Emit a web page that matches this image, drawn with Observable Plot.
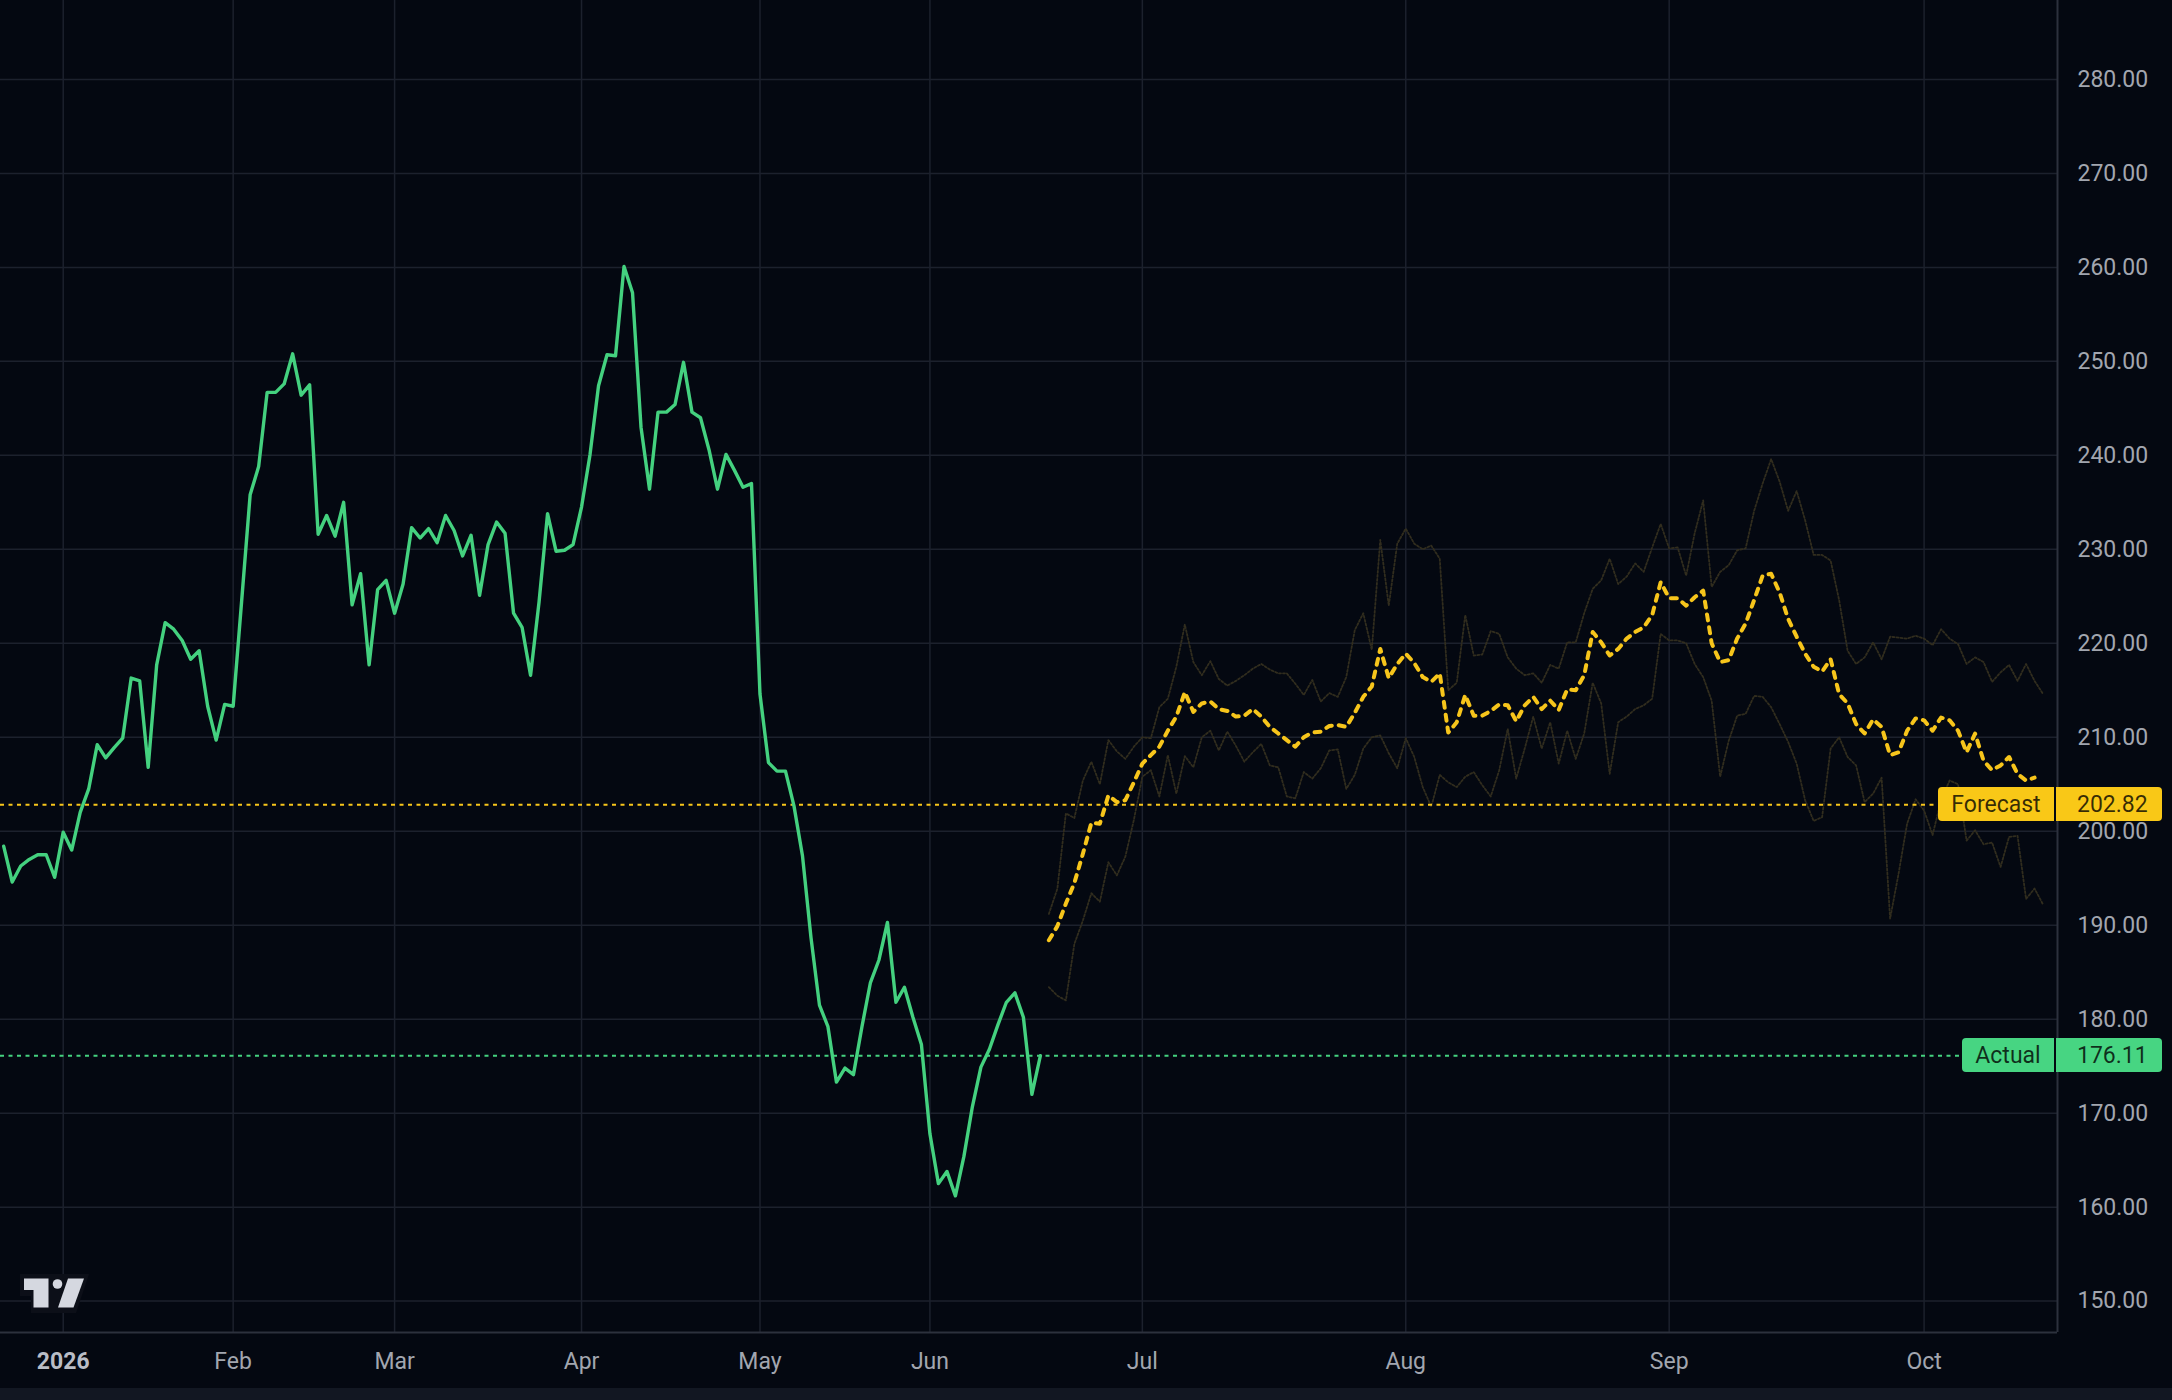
<!DOCTYPE html>
<html>
<head>
<meta charset="utf-8">
<script src="https://cdn.jsdelivr.net/npm/d3@7"></script>
<script src="https://cdn.jsdelivr.net/npm/@observablehq/plot@0.6"></script>
<style>
  html, body { margin: 0; padding: 0; background: #040811; overflow: hidden; }
  #wrap { position: relative; width: 2172px; height: 1400px; background: #040811; }
  #band { position: absolute; left: 0; top: 1388px; width: 2172px; height: 12px; background: #121722; }
  .lbl { position: absolute; height: 34px; font: 23px Roboto, sans-serif; color: rgba(0,0,0,0.78);
         display: flex; align-items: center; box-sizing: border-box; }
</style>
</head>
<body>
<div id="wrap"><div id="band"></div></div>
<script>
// ---- data (bar index based: TradingView spaces bars evenly) ----
const actualStart = 0;
const actual = [198.4,194.6,196.3,197.0,197.5,197.5,195.1,199.9,198.0,202.0,
204.5,209.2,207.8,208.9,209.9,216.3,216.0,206.8,217.7,222.2,
221.5,220.3,218.3,219.2,213.3,209.7,213.5,213.3,224.5,235.8,
238.8,246.7,246.7,247.6,250.8,246.4,247.5,231.6,233.6,231.4,
235.0,224.1,227.4,217.7,225.7,226.7,223.2,226.3,232.3,231.2,
232.2,230.7,233.6,232.0,229.3,231.5,225.1,230.5,232.9,231.7,
223.2,221.7,216.6,224.4,233.8,229.8,229.9,230.5,234.5,240.1,
247.4,250.7,250.6,260.1,257.3,243.0,236.4,244.6,244.6,245.4,
249.9,244.6,244.0,240.6,236.4,240.1,238.4,236.6,237.0,214.6,
207.3,206.4,206.4,202.7,197.4,188.7,181.5,179.2,173.3,174.8,
174.1,179.2,183.9,186.3,190.3,181.8,183.4,180.2,177.3,167.8,
162.5,163.8,161.2,165.4,170.7,174.9,176.8,179.4,181.8,182.8,
180.2,172.0,176.11];

const forecastStart = 123;
const forecast = [188.4,189.9,192.3,194.5,197.6,200.9,200.8,203.8,203.1,203.3,
205.2,207.2,208.1,209.0,210.7,212.2,214.8,212.7,213.6,213.8,
213.0,212.8,212.2,212.3,213.0,212.2,211.1,210.4,209.7,209.0,
210.0,210.5,210.6,211.2,211.3,211.1,212.6,214.3,215.4,219.4,
216.3,217.8,218.9,217.9,216.4,215.9,216.8,210.5,211.6,214.5,
212.3,212.3,212.8,213.5,213.4,211.7,213.4,214.3,213.0,213.9,
212.9,215.1,215.0,216.6,221.2,220.1,218.7,219.4,220.5,221.2,
221.7,223.0,226.5,224.8,224.8,224.0,224.9,225.6,220.0,218.0,
218.2,220.5,222.1,224.6,227.2,227.4,225.4,222.6,220.7,218.9,
217.5,217.0,218.3,214.6,213.6,211.4,210.4,211.9,211.1,208.1,
208.4,210.7,212.0,211.8,210.7,212.1,211.8,210.7,208.4,210.4,
207.5,206.5,207.0,207.9,206.1,205.4,205.7];

const ghostStart = 123;
const ghostUpper = [191.2,193.9,201.9,201.4,205.4,207.4,205.0,209.7,208.5,207.7,
209.0,210.0,209.9,213.2,214.1,217.5,222.0,218.0,216.6,218.1,
216.2,215.5,216.0,216.6,217.3,217.8,217.2,216.8,216.8,215.7,
214.5,216.1,213.8,214.7,214.3,216.4,221.4,223.2,219.3,231.0,
224.0,230.6,232.2,230.6,230.0,230.4,229.0,215.0,215.8,223.0,
218.7,218.8,221.3,221.0,218.5,217.3,216.6,216.8,215.8,217.7,
217.3,220.1,220.1,223.2,225.8,226.7,229.0,226.3,227.1,228.5,
227.6,230.2,232.7,230.1,230.2,227.2,231.7,235.2,226.0,227.6,
228.3,229.9,230.1,234.1,237.0,239.6,237.2,234.1,236.2,233.1,
229.4,229.4,228.8,224.6,219.2,217.8,218.5,220.1,218.3,220.7,
220.6,220.5,220.8,220.5,219.8,221.5,220.5,219.9,217.8,218.5,
218.0,215.9,216.9,217.7,216.0,217.8,216.0,214.6];
const ghostLower = [183.4,182.5,182.0,188.0,190.5,193.4,192.5,196.7,195.3,197.3,
201.2,205.8,206.5,203.7,208.1,204.0,208.0,206.8,210.0,210.7,
208.6,210.6,209.1,207.4,208.4,209.3,207.0,206.8,203.7,203.5,
206.3,205.6,206.7,208.6,208.7,204.5,206.0,208.8,210.0,210.2,
208.3,206.7,209.9,207.9,204.7,202.6,206.0,205.2,204.7,205.8,
206.3,204.9,203.7,206.5,210.9,205.6,208.8,212.2,208.8,211.6,
207.2,210.7,207.7,210.4,215.8,213.6,206.1,211.6,212.2,213.0,
213.4,214.1,221.0,220.3,220.3,220.0,217.8,216.4,213.9,205.8,
209.6,212.3,212.5,214.4,214.3,213.2,211.4,209.5,207.2,203.3,
201.1,201.5,208.8,210.0,207.9,207.0,203.1,204.0,205.7,190.7,
195.5,200.8,203.4,202.2,199.6,203.3,205.4,205.0,199.0,200.1,
198.6,198.8,196.2,199.4,199.5,192.8,193.9,192.2];

const monthTicks = [7, 27, 46, 68, 89, 109, 134, 165, 196, 226];
const monthLabels = ["2026","Feb","Mar","Apr","May","Jun","Jul","Aug","Sep","Oct"];
const priceTicks = [150,160,170,180,190,200,210,220,230,240,250,260,270,280];

const forecastLevel = 202.82;
const actualLevel = 176.11;

// ---- styling ----
const gridColor = "#1c212d";
const borderColor = "#2c313d";
const green = "#44d17f";
const yellow = "#f7c51b";
const ghostColor = "#312d1e";
const xDomain = [-0.38, 241.7];
const yDomain = [146.66, 288.4];

const svg = Plot.plot({
  width: 2172, height: 1388,
  marginLeft: 0, marginRight: 115, marginTop: 0, marginBottom: 56,
  style: {background: "transparent", color: "#a2a6af", fontFamily: "Roboto, sans-serif", fontSize: "23px"},
  x: {domain: xDomain, axis: "bottom", ticks: monthTicks, tickFormat: v => monthLabels[monthTicks.indexOf(v)],
      tickSize: 0, tickPadding: 20, label: null},
  y: {domain: yDomain, axis: "right", ticks: priceTicks, tickFormat: v => v.toFixed(2),
      tickSize: 0, tickPadding: 20, label: null},
  marks: [
    Plot.ruleY(priceTicks, {stroke: gridColor, strokeWidth: 1.5}),
    Plot.ruleX(monthTicks, {stroke: gridColor, strokeWidth: 1.5}),
    Plot.ruleX([xDomain[1]], {stroke: borderColor, strokeWidth: 2}),
    Plot.ruleY([yDomain[0]], {stroke: borderColor, strokeWidth: 2}),
    Plot.line(ghostUpper, {x: (d, i) => ghostStart + i, y: d => d, stroke: ghostColor, strokeWidth: 1.8, strokeDasharray: "2,2"}),
    Plot.line(ghostLower, {x: (d, i) => ghostStart + i, y: d => d, stroke: ghostColor, strokeWidth: 1.8, strokeDasharray: "2,2"}),
    Plot.ruleY([forecastLevel], {stroke: yellow, strokeWidth: 1.8, strokeDasharray: "4,4.5"}),
    Plot.ruleY([actualLevel], {stroke: green, strokeWidth: 1.8, strokeDasharray: "4,4.5"}),
    Plot.line(actual, {x: (d, i) => actualStart + i, y: d => d, stroke: green, strokeWidth: 3.4, strokeLinejoin: "round"}),
    Plot.line(forecast, {x: (d, i) => forecastStart + i, y: d => d, stroke: yellow, strokeWidth: 4, strokeDasharray: "6,7", strokeLinecap: "round"})
  ]
});

const wrap = document.getElementById("wrap");
svg.style.position = "absolute";
svg.style.left = "0px";
svg.style.top = "0px";
wrap.appendChild(svg);

d3.select(svg).selectAll("text")
  .filter(function() { return this.textContent === "2026"; })
  .attr("font-weight", "bold").attr("fill", "#b9bdc6");

// price label boxes
const ys = svg.scale("y");
function addLabel(name, value, bg, nameLeft) {
  const top = ys.apply(value) - 17;
  const a = document.createElement("div");
  a.className = "lbl";
  a.style.cssText = `left:${nameLeft}px;top:${top}px;width:${2054 - nameLeft}px;background:${bg};border-radius:4px 0 0 4px;justify-content:center;`;
  a.textContent = name;
  const b = document.createElement("div");
  b.className = "lbl";
  b.style.cssText = `left:2056px;top:${top}px;width:106px;background:${bg};border-radius:0 4px 4px 0;padding-left:21px;`;
  b.textContent = value.toFixed(2);
  wrap.appendChild(a); wrap.appendChild(b);
}
addLabel("Forecast", forecastLevel, "#f9c817", 1938);
addLabel("Actual", actualLevel, "#47d582", 1962);

// TradingView-style logo
const logo = document.createElementNS("http://www.w3.org/2000/svg", "svg");
logo.setAttribute("width", "100"); logo.setAttribute("height", "50");
logo.style.cssText = "position:absolute;left:0px;top:1268px;";
logo.innerHTML = `
  <path d="M20 6 H89 L76 45 H31 V28 H20 Z" fill="#0c0f18"/>
  <path d="M24 10.5 H48.5 V39.5 H33.5 V22 H24 Z" fill="#d5d8e0"/>
  <circle cx="57.5" cy="16" r="4.8" fill="#d5d8e0"/>
  <path d="M68 10.5 H84 L73.5 39.5 H58 Z" fill="#d5d8e0"/>`;
wrap.appendChild(logo);
</script>
</body>
</html>
